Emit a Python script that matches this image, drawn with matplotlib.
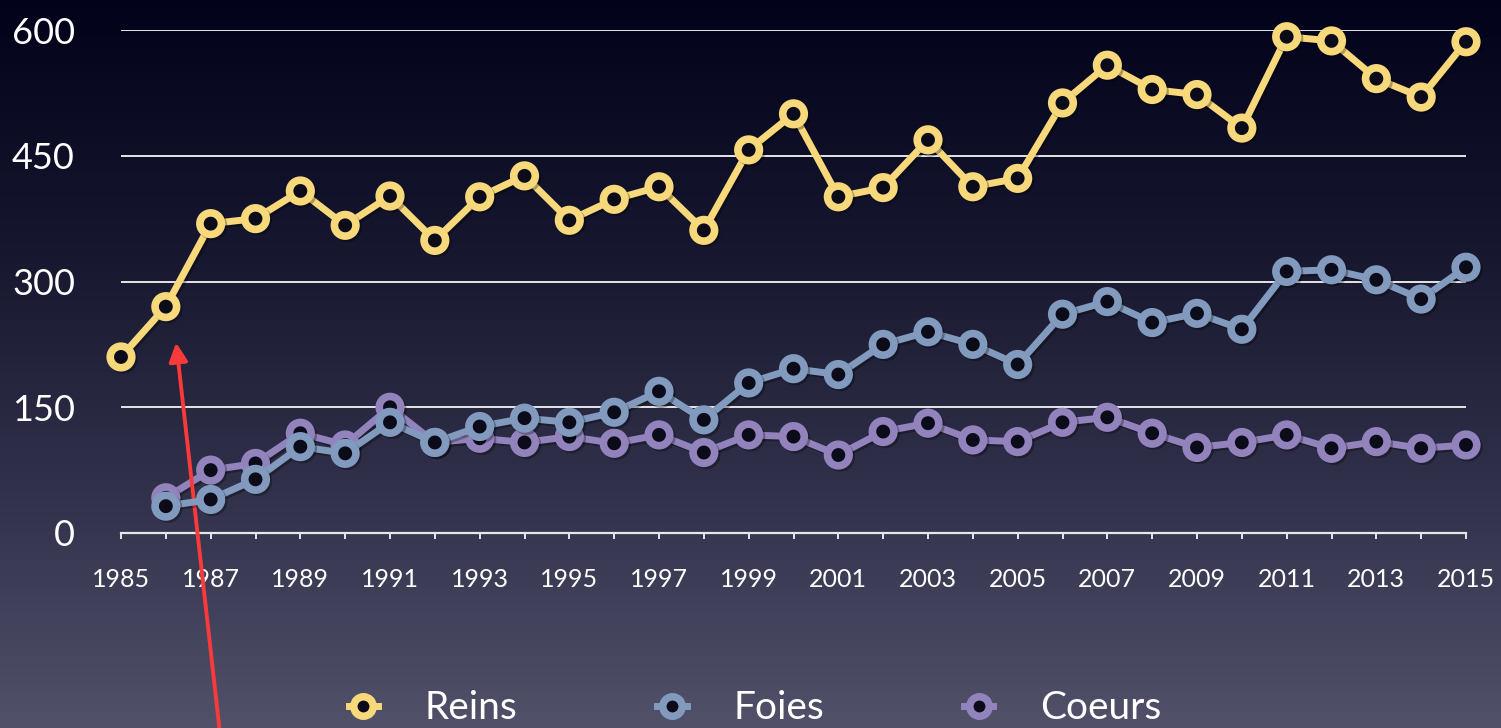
import matplotlib
matplotlib.use("Agg")
import matplotlib.pyplot as plt
import matplotlib.patheffects as pe
from matplotlib.colors import LinearSegmentedColormap
import numpy as np

plt.rcParams['font.family'] = ['Lato', 'DejaVu Sans']

# data
years = list(range(1985, 2016))
reins = [210, 270, 369, 375, 408, 367, 402, 349, 401, 426, 373, 398, 413, 361, 457,
         500, 401, 412, 469, 413, 423, 513, 558, 529, 523, 483, 592, 587, 542, 520, 586]
foies_years = list(range(1986, 2016))
foies = [32, 40, 64, 103, 95, 132, 108, 127, 137, 132, 144, 169, 135, 179, 196,
         189, 225, 240, 225, 201, 261, 276, 251, 262, 243, 312, 314, 302, 279, 317]
coeurs_years = list(range(1986, 2016))
coeurs = [42, 75, 83, 119, 105, 150, 108, 113, 108, 115, 107, 117, 96, 117, 115,
          93, 121, 131, 111, 109, 132, 138, 119, 102, 108, 117, 101, 109, 101, 105]
series_names = ["Reins", "Foies", "Coeurs"]
series_colors = ["#f7d87a", "#819abd", "#9383bd"]
y_ticks = [0, 150, 300, 450, 600]

fig = plt.figure(figsize=(15.01, 7.28), dpi=100)

# background gradient
bg = fig.add_axes([0, 0, 1, 1], zorder=-10)
cmap = LinearSegmentedColormap.from_list(
    "bg", [(0.0, "#02021a"), (0.35, "#17172f"), (0.7, "#33334d"), (1.0, "#51516a")])
grad = np.linspace(0, 1, 256).reshape(-1, 1)
bg.imshow(grad, aspect='auto', cmap=cmap, extent=[0, 1, 0, 1], origin='upper')
bg.axis('off')

ax = fig.add_axes([121 / 1501, 1 - 533 / 728, 1345 / 1501, 503 / 728])
ax.patch.set_alpha(0)
ax.set_xlim(1985, 2015)
ax.set_ylim(0, 600)

for v in y_ticks[1:]:
    ax.axhline(v, color='#e6e6e6', lw=1.4, zorder=1)

shadow = [pe.SimpleLineShadow(offset=(1.5, -1.5), shadow_color='black', alpha=0.3), pe.Normal()]
lines = []
for (xs, ys, name, col, z) in [(years, reins, series_names[0], series_colors[0], 5),
                              (foies_years, foies, series_names[1], series_colors[1], 4),
                              (coeurs_years, coeurs, series_names[2], series_colors[2], 3)]:
    ln, = ax.plot(xs, ys, color=col, lw=5, marker='o', markersize=15.5,
                  markeredgewidth=5.5, markeredgecolor=col, markerfacecolor='#0b0b1a',
                  clip_on=False, zorder=z, label=name, path_effects=shadow)
    lines.append(ln)

for s in ['top', 'right', 'left']:
    ax.spines[s].set_visible(False)
ax.spines['bottom'].set_color('#e6e6e6')
ax.spines['bottom'].set_linewidth(1.6)

ax.set_xticks(years)
ax.set_xticklabels([str(y) if (y - 1985) % 2 == 0 else '' for y in years])
ax.tick_params(axis='x', colors='#e6e6e6', direction='out', length=4, width=1.4,
               labelsize=18, labelcolor='white', pad=21)
ax.set_yticks(y_ticks)
ax.set_yticklabels([str(v) for v in y_ticks])
ax.tick_params(axis='y', length=0, labelsize=26, labelcolor='white', pad=46 * 0.72)

# red arrow
ax.annotate('', xy=(1986.23, 227), xytext=(1987.22, -245),
            xycoords='data', textcoords='data', annotation_clip=False,
            arrowprops=dict(arrowstyle='-|>', color='#f93a3a', lw=2.8,
                            mutation_scale=28, shrinkA=0, shrinkB=0))

leg = fig.legend(handles=lines, loc='center', bbox_to_anchor=(0.503, 0.027), ncol=3,
                 frameon=False, fontsize=28, handlelength=0.75, handletextpad=1.2,
                 columnspacing=3.6, labelcolor='white')
for h in leg.legend_handles:
    h.set_path_effects([])
    h.set_markersize(14)
    h.set_markeredgewidth(5.4)

fig.savefig("out.png", dpi=100)
